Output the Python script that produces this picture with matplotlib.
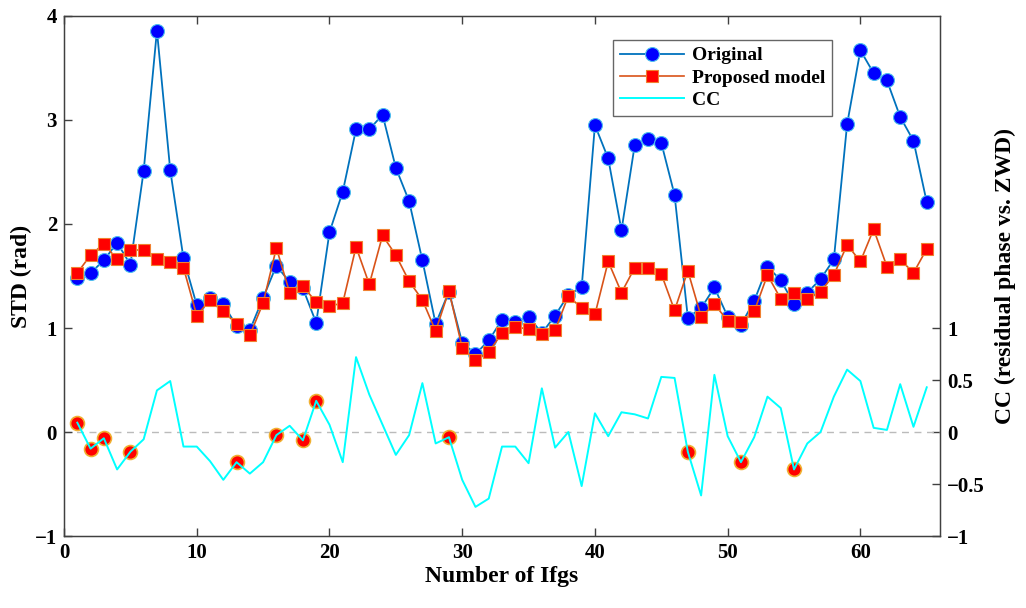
import numpy as np
import matplotlib
matplotlib.use('Agg')
import matplotlib.pyplot as plt

plt.rcParams['font.family'] = ['Liberation Serif', 'DejaVu Serif']
plt.rcParams['font.weight'] = 'bold'

# 数据
ifgs = list(range(1, 66))
original = [1.48, 1.53, 1.65, 1.82, 1.61, 2.51, 3.86, 2.52, 1.67, 1.22,
            1.29, 1.23, 1.02, 0.98, 1.29, 1.60, 1.44, 1.38, 1.05, 1.92,
            2.31, 2.91, 2.91, 3.05, 2.54, 2.22, 1.65, 1.04, 1.35, 0.86,
            0.75, 0.88, 1.08, 1.06, 1.11, 0.95, 1.12, 1.32, 1.39, 2.95,
            2.63, 1.94, 2.76, 2.82, 2.78, 2.28, 1.10, 1.19, 1.39, 1.11,
            1.03, 1.26, 1.59, 1.46, 1.23, 1.34, 1.47, 1.66, 2.96, 3.67,
            3.45, 3.38, 3.03, 2.80, 2.21]
proposed = [1.53, 1.70, 1.81, 1.66, 1.75, 1.75, 1.66, 1.63, 1.58, 1.12,
            1.27, 1.16, 1.04, 0.93, 1.24, 1.77, 1.34, 1.40, 1.25, 1.21,
            1.24, 1.78, 1.42, 1.89, 1.70, 1.45, 1.27, 0.97, 1.36, 0.81,
            0.69, 0.77, 0.95, 1.01, 0.99, 0.94, 0.98, 1.31, 1.19, 1.13,
            1.64, 1.34, 1.58, 1.58, 1.52, 1.17, 1.55, 1.11, 1.23, 1.07,
            1.06, 1.16, 1.51, 1.28, 1.34, 1.28, 1.35, 1.51, 1.80, 1.64,
            1.95, 1.59, 1.66, 1.53, 1.76]
cc = [0.09, -0.16, -0.06, -0.36, -0.19, -0.07, 0.40, 0.49, -0.14, -0.14,
      -0.28, -0.46, -0.29, -0.40, -0.29, -0.03, 0.06, -0.08, 0.30, 0.07,
      -0.29, 0.72, 0.36, 0.07, -0.22, -0.03, 0.47, -0.11, -0.05, -0.46,
      -0.72, -0.64, -0.14, -0.14, -0.30, 0.42, -0.15, 0.00, -0.52, 0.18,
      -0.04, 0.19, 0.17, 0.13, 0.53, 0.52, -0.19, -0.61, 0.55, -0.04,
      -0.29, -0.05, 0.34, 0.23, -0.36, -0.11, 0.00, 0.34, 0.60, 0.49,
      0.04, 0.02, 0.46, 0.05, 0.43]
# 标红的点
marked = [1, 2, 3, 5, 13, 16, 18, 19, 29, 47, 51, 55]

fig = plt.figure(figsize=(10.26, 6.08), dpi=100)
ax = fig.add_axes([0.0624, 0.1184, 0.8538, 0.8553])

l1, = ax.plot(ifgs, original, '-o', color='#0072BD', lw=1.3, ms=10,
              mfc='#0000FF', mec='#4DBEEE', mew=0.8, label='Original')
l2, = ax.plot(ifgs, proposed, '-s', color='#D95319', lw=1.2, ms=8,
              mfc='#FF0000', mec='#F08030', mew=0.8, label='Proposed model')
ax.set_xlim(0, 66)
ax.set_ylim(-1, 4)
ax.set_xticks(range(0, 61, 10))
ax.set_yticks(range(-1, 5))
ax.set_xlabel('Number of Ifgs', fontsize=17, fontweight='bold', labelpad=2)
ax.set_ylabel('STD (rad)', fontsize=17, fontweight='bold', labelpad=2)
ax.tick_params(direction='in', length=6, width=1, labelsize=15, top=True,
               color='#404040', pad=5)
for s in ax.spines.values():
    s.set_color('#404040')
    s.set_linewidth(1)

ax2 = ax.twinx()
ax2.axhline(0, color='#BBBBBB', ls='--', lw=1, dashes=(5, 4))
mx = [ifgs[i - 1] for i in marked]
my = [cc[i - 1] for i in marked]
ax2.plot(mx, my, 'o', ms=10, mfc='#FF0000', mec='#F0B030', mew=1.2, zorder=2)
l3, = ax2.plot(ifgs, cc, '-', color='#00FFFF', lw=1.4, label='CC', zorder=3)
ax2.set_ylim(-1, 4)
ax2.set_yticks([-1, -0.5, 0, 0.5, 1])
ax2.set_yticklabels(['\u22121', '\u22120.5', '0', '0.5', '1'])
ax2.set_ylabel('CC (residual phase vs. ZWD)', fontsize=17, fontweight='bold',
               labelpad=7)
ax2.tick_params(direction='in', length=6, width=1, labelsize=15,
                color='#404040', pad=5)
for s in ax2.spines.values():
    s.set_color('#404040')

leg = ax.legend(handles=[l1, l2, l3], loc='upper right',
                bbox_to_anchor=(0.877, 0.954), borderaxespad=0,
                fontsize=14, handlelength=3.3, frameon=True, fancybox=False,
                borderpad=0.35, labelspacing=0.25, handletextpad=0.4)
leg.get_frame().set_edgecolor('#404040')
leg.get_frame().set_linewidth(1)
leg.set_zorder(10)
ax.set_zorder(ax2.get_zorder() + 1)
ax.patch.set_visible(False)

plt.savefig('out.png', dpi=100)
